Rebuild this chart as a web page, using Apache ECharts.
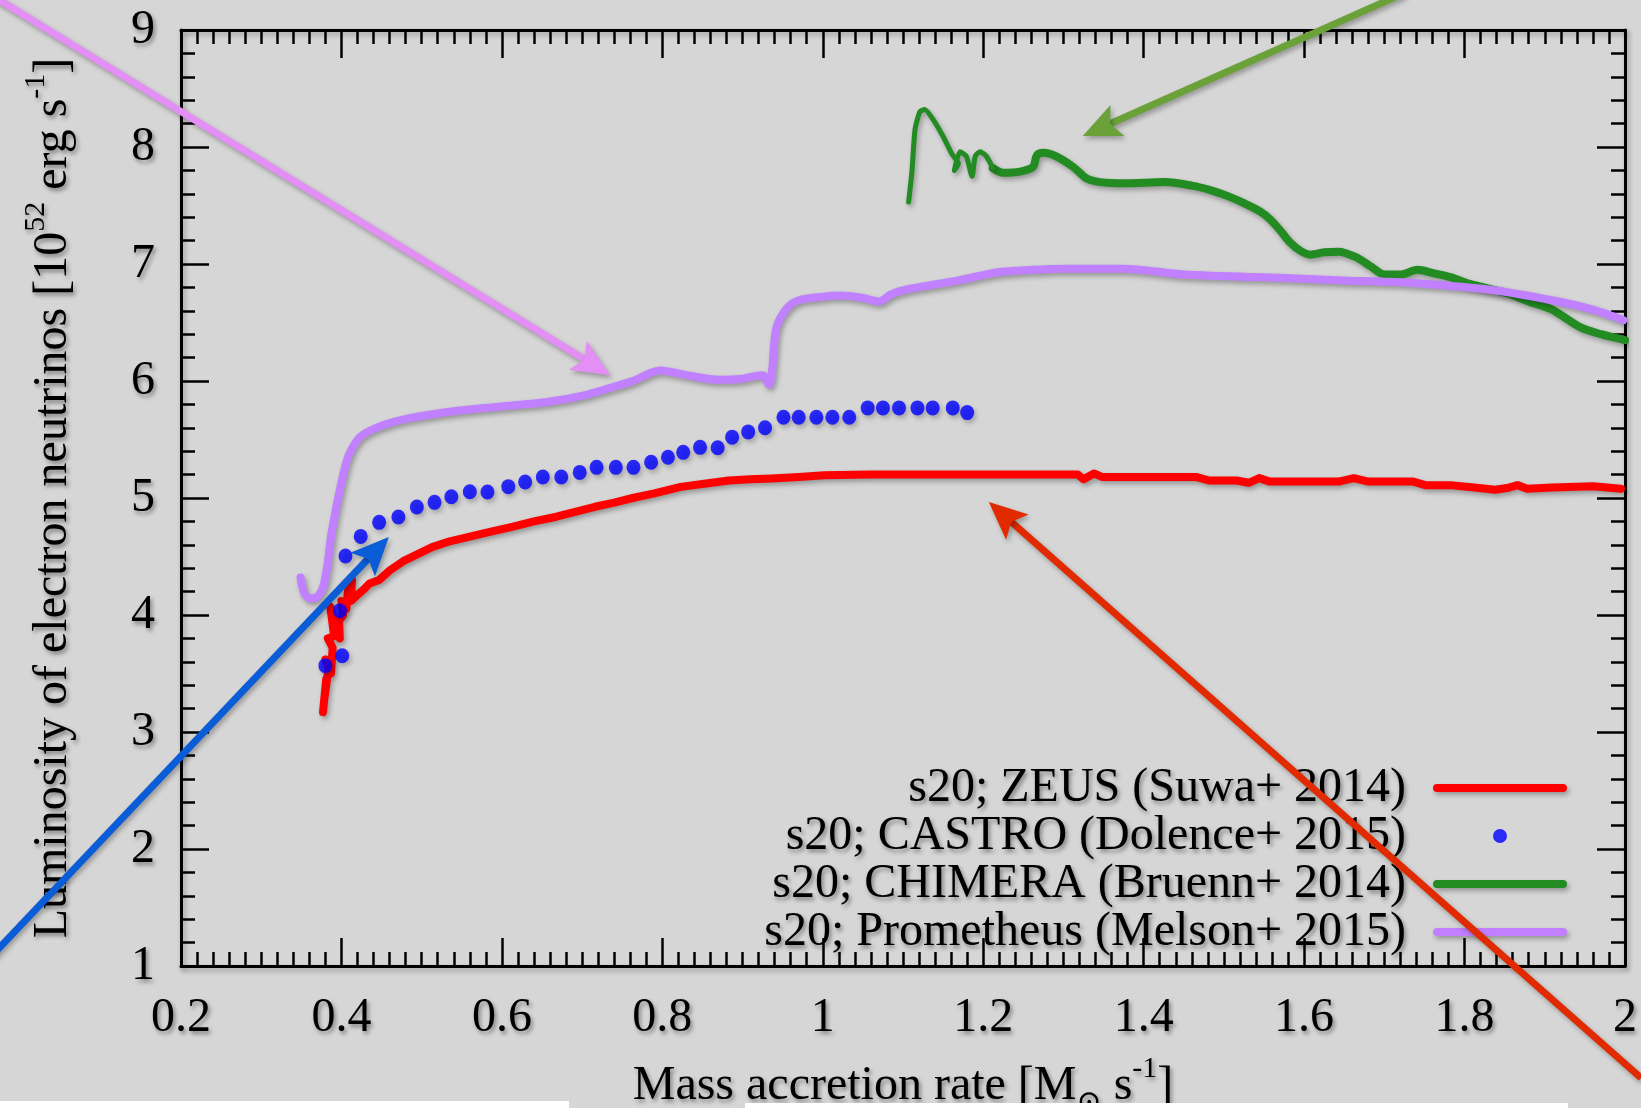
<!DOCTYPE html>
<html>
<head>
<meta charset="utf-8">
<script src="https://cdn.jsdelivr.net/npm/echarts@6/dist/echarts.min.js"></script>
<style>
html,body{margin:0;padding:0;background:#d6d6d6;}
#chart{width:1641px;height:1108px;}
</style>
</head>
<body>
<div id="chart"></div>
<script>
// ---------- data ----------
const xTicks = [0.2, 0.4, 0.6, 0.8, 1, 1.2, 1.4, 1.6, 1.8, 2];
const yTicks = [1, 2, 3, 4, 5, 6, 7, 8, 9];
const seriesNames = [
  's20; ZEUS (Suwa+ 2014)',
  's20; CASTRO (Dolence+ 2015)',
  's20; CHIMERA (Bruenn+ 2014)',
  's20; Prometheus (Melson+ 2015)'
];
const seriesColors = ['#ff0000', '#0000ff', '#228b22', '#c080ff'];

const zeus = [
  [0.377,3.17],[0.381,3.45],[0.379,3.3],[0.384,3.55],[0.380,3.62],[0.387,3.5],[0.389,3.72],
  [0.383,3.8],[0.391,3.82],[0.386,4.07],[0.393,3.9],[0.398,3.8],[0.397,3.95],[0.402,4.0],
  [0.400,4.12],[0.406,4.05],[0.408,4.2],[0.413,4.3],[0.412,4.12],[0.418,4.16],
  [0.428,4.22],[0.435,4.27],[0.447,4.3],[0.46,4.38],[0.477,4.46],[0.495,4.52],
  [0.513,4.58],[0.535,4.63],[0.56,4.67],[0.585,4.71],[0.614,4.755],[0.64,4.8],[0.668,4.84],
  [0.69,4.88],[0.716,4.925],[0.74,4.96],[0.763,5.0],[0.79,5.04],[0.823,5.095],[0.85,5.12],
  [0.883,5.15],[0.91,5.16],[0.936,5.167],[0.97,5.18],[1.002,5.195],[1.06,5.2],[1.15,5.2],
  [1.221,5.2],[1.318,5.2],[1.325,5.16],[1.338,5.21],[1.348,5.18],[1.465,5.18],[1.481,5.15],
  [1.516,5.15],[1.531,5.13],[1.544,5.17],[1.557,5.14],[1.643,5.14],[1.662,5.17],[1.68,5.14],
  [1.736,5.14],[1.751,5.11],[1.782,5.11],[1.812,5.09],[1.838,5.07],[1.853,5.085],[1.866,5.11],
  [1.878,5.08],[1.909,5.09],[1.96,5.1],[1.995,5.08]
];

const castro = [
  [0.380,3.567],[0.401,3.652],[0.398,4.037],[0.405,4.504],[0.424,4.672],[0.447,4.792],
  [0.471,4.838],[0.494,4.923],[0.516,4.963],[0.537,5.011],[0.560,5.054],[0.582,5.051],
  [0.608,5.097],[0.629,5.137],[0.651,5.179],[0.674,5.179],[0.697,5.219],[0.718,5.262],
  [0.742,5.262],[0.764,5.262],[0.786,5.305],[0.807,5.348],[0.826,5.390],[0.847,5.433],
  [0.869,5.430],[0.887,5.52],[0.907,5.565],[0.928,5.60],[0.951,5.69],[0.970,5.69],
  [0.992,5.69],[1.012,5.69],[1.033,5.69],[1.056,5.77],[1.075,5.77],[1.095,5.77],
  [1.118,5.77],[1.137,5.77],[1.162,5.77],[1.180,5.73]
];

const chimera = [
  [1.212,7.82],[1.225,7.78],[1.246,7.79],[1.262,7.83],[1.267,7.93],[1.275,7.95],[1.291,7.92],
  [1.312,7.83],[1.329,7.73],[1.346,7.70],[1.376,7.69],[1.426,7.70],[1.46,7.67],[1.484,7.63],
  [1.505,7.58],[1.525,7.52],[1.545,7.45],[1.558,7.38],[1.571,7.28],[1.583,7.18],[1.596,7.11],
  [1.608,7.08],[1.625,7.10],[1.643,7.105],[1.664,7.06],[1.683,6.98],[1.70,6.91],[1.72,6.91],
  [1.741,6.95],[1.762,6.92],[1.781,6.89],[1.806,6.83],[1.83,6.79],[1.853,6.75],[1.88,6.68],
  [1.909,6.61],[1.944,6.46],[1.97,6.40],[2.0,6.35]
];

const chimeraEarly = [
  [1.107,7.53],[1.111,7.78],[1.115,8.15],[1.121,8.30],[1.127,8.32],[1.138,8.23],[1.150,8.09],
  [1.161,7.94],[1.169,7.86],[1.164,7.80],[1.171,7.96],[1.179,7.92],[1.186,7.75],[1.19,7.92],
  [1.196,7.96],[1.204,7.92],[1.212,7.82]
];

const prometheus = [
  [0.349,4.32],[0.353,4.2],[0.358,4.15],[0.364,4.14],[0.372,4.17],[0.378,4.26],[0.383,4.45],
  [0.387,4.67],[0.393,4.9],[0.399,5.10],[0.404,5.25],[0.41,5.38],[0.423,5.52],[0.447,5.61],
  [0.483,5.68],[0.537,5.74],[0.596,5.78],[0.656,5.82],[0.704,5.88],[0.739,5.95],[0.763,6.0],
  [0.797,6.09],[0.83,6.05],[0.871,6.01],[0.9,6.02],[0.913,6.04],[0.925,6.05],[0.933,5.97],
  [0.937,6.1],[0.942,6.45],[0.955,6.62],[0.97,6.69],[1.0,6.72],[1.02,6.73],[1.05,6.71],
  [1.07,6.68],[1.085,6.74],[1.103,6.78],[1.169,6.86],[1.218,6.93],[1.26,6.95],[1.302,6.96],
  [1.374,6.96],[1.45,6.91],[1.577,6.88],[1.65,6.86],[1.73,6.84],[1.832,6.78],[1.909,6.69],
  [1.96,6.61],[1.998,6.52]
];

// annotation arrows: [fromX, fromY, toX, toY] in data units
const arrows = [
  [-0.049, 9.352, 0.735, 6.05],
  [1.724, 9.314, 1.324, 8.094],
  [-0.0498, 0.987, 0.459, 4.667],
  [2.02, 0.043, 1.207, 4.966]
];
const arrowColors = ['#e38ff6', '#6aa239', '#0a5cd7', '#e22a00'];

// ---------- styles ----------
const FONT = "'Liberation Serif', 'Times New Roman', 'DejaVu Serif', serif";
const txtShadow = {textShadowColor:'rgba(0,0,0,0.4)', textShadowBlur:4, textShadowOffsetX:2, textShadowOffsetY:3};
const lnShadow = {shadowColor:'rgba(0,0,0,0.3)', shadowBlur:5, shadowOffsetX:2, shadowOffsetY:3};

function makeXAxis(pos, showLabels, name) {
  return {
    type:'value', position:pos, min:xTicks[0], max:xTicks[xTicks.length-1], interval:0.2,
    name: name || '', nameLocation:'middle', nameGap: 88,
    nameTextStyle: Object.assign({fontFamily:FONT, fontSize:48, color:'#000', lineHeight:64,
      rich:{
        sup:{fontFamily:FONT, fontSize:30, lineHeight:24, verticalAlign:'top', color:'#000'},
        sub:{fontFamily:FONT, fontSize:30, lineHeight:24, verticalAlign:'bottom', color:'#000'}
      }}, txtShadow),
    axisLine:{show:true, onZero:false, lineStyle:Object.assign({color:'#000', width:3}, lnShadow)},
    axisTick:{show:true, inside:true, length:28, lineStyle:{color:'#000', width:2.5}},
    minorTick:{show:true, splitNumber:10, length:14, lineStyle:{color:'#000', width:2.5}},
    splitLine:{show:false},
    axisLabel: Object.assign({show:showLabels, margin:28, fontFamily:FONT, fontSize:48, color:'#000', lineHeight:48}, txtShadow)
  };
}
function makeYAxis(pos, showLabels, name) {
  return {
    type:'value', position:pos, min:yTicks[0], max:yTicks[yTicks.length-1], interval:1,
    name: name || '', nameLocation:'middle', nameGap: 96,
    nameTextStyle: Object.assign({fontFamily:FONT, fontSize:48, color:'#000', lineHeight:64,
      rich:{
        sup:{fontFamily:FONT, fontSize:30, lineHeight:24, verticalAlign:'top', color:'#000'}
      }}, txtShadow),
    axisLine:{show:true, onZero:false, lineStyle:Object.assign({color:'#000', width:3}, lnShadow)},
    axisTick:{show:true, inside:true, length:28, lineStyle:{color:'#000', width:2.5}},
    minorTick:{show:true, splitNumber:5, length:14, lineStyle:{color:'#000', width:2.5}},
    splitLine:{show:false},
    axisLabel: Object.assign({show:showLabels, margin:26, fontFamily:FONT, fontSize:48, color:'#000', lineHeight:48}, txtShadow)
  };
}

function lineSeries(name, data, color, width, z) {
  return {
    type:'line', name:name, data:data, symbol:'none', showSymbol:false, smooth:false,
    z:z, clip:true, animation:false,
    lineStyle:Object.assign({color:color, width:width, cap:'round', join:'round'}, lnShadow),
    itemStyle:{color:color}
  };
}

const chart = echarts.init(document.getElementById('chart'), null, {renderer:'canvas'});

const option = {
  backgroundColor:'#d6d6d6',
  animation:false,
  grid:{left:181, top:30, right:16, bottom:142, containLabel:false, outerBoundsMode:'none'},
  xAxis:[
    makeXAxis('bottom', true, 'Mass accretion rate [M{sub|\u2299} s{sup|-1}]'),
    makeXAxis('top', false, '')
  ],
  yAxis:[
    makeYAxis('left', true, 'Luminosity of electron neutrinos [10{sup|52} erg s{sup|-1}]'),
    makeYAxis('right', false, '')
  ],
  legend:{
    orient:'vertical', align:'right', right:74, top:764, padding:0,
    itemWidth:126, itemHeight:14, itemGap:0, selectedMode:false,
    textStyle:Object.assign({fontFamily:FONT, fontSize:48, color:'#000', lineHeight:48, padding:[0,26,0,0]}, txtShadow),
    lineStyle:Object.assign({width:8}, lnShadow),
    data:[
      {name:seriesNames[0], itemStyle:{opacity:0}},
      {name:seriesNames[1]},
      {name:seriesNames[2], itemStyle:{opacity:0}},
      {name:seriesNames[3], itemStyle:{opacity:0}}
    ]
  },
  series:[
    lineSeries(seriesNames[0], zeus, seriesColors[0], 8, 2),
    {
      type:'scatter', name:seriesNames[1], data:castro, symbol:'circle', symbolSize:[14,15], z:3,
      itemStyle:Object.assign({color:seriesColors[1]}, lnShadow)
    },
    Object.assign(lineSeries(seriesNames[2], chimera, seriesColors[2], 8, 4), {smooth:0.3}),
    Object.assign(lineSeries(seriesNames[2], chimeraEarly, seriesColors[2], 5, 4), {smooth:0.2}),
    Object.assign(lineSeries(seriesNames[3], prometheus, seriesColors[3], 8, 5), {smooth:0.3}),
    {
      type:'custom', name:'arrows', data:arrows, z:20, clip:false, silent:true,
      encode:{x:[0,2], y:[1,3]},
      renderItem:function(params, api){
        const p1 = api.coord([api.value(0), api.value(1)]);
        const p2 = api.coord([api.value(2), api.value(3)]);
        const color = arrowColors[params.dataIndex];
        const dx = p2[0]-p1[0], dy = p2[1]-p1[1];
        const len = Math.sqrt(dx*dx+dy*dy);
        const ux = dx/len, uy = dy/len, nx = -uy, ny = ux;
        const L = 38, W = 17, notch = 8;
        const bx = p2[0]-ux*L, by = p2[1]-uy*L;
        const mx = p2[0]-ux*(L-notch), my = p2[1]-uy*(L-notch);
        return {
          type:'group',
          children:[
            {type:'line', shape:{x1:p1[0], y1:p1[1], x2:mx, y2:my},
             style:Object.assign({stroke:color, lineWidth:7}, lnShadow)},
            {type:'polygon', shape:{points:[[p2[0],p2[1]],[bx+nx*W,by+ny*W],[mx,my],[bx-nx*W,by-ny*W]]},
             style:Object.assign({fill:color}, lnShadow)}
          ]
        };
      }
    }
  ],
  graphic:[
    {type:'rect', z:100, shape:{x:0, y:1101, width:569, height:7}, style:{fill:'#ffffff'}},
    {type:'rect', z:100, shape:{x:745, y:1103, width:823, height:5}, style:{fill:'#ffffff'}}
  ]
};
chart.setOption(option);
</script>
</body>
</html>
